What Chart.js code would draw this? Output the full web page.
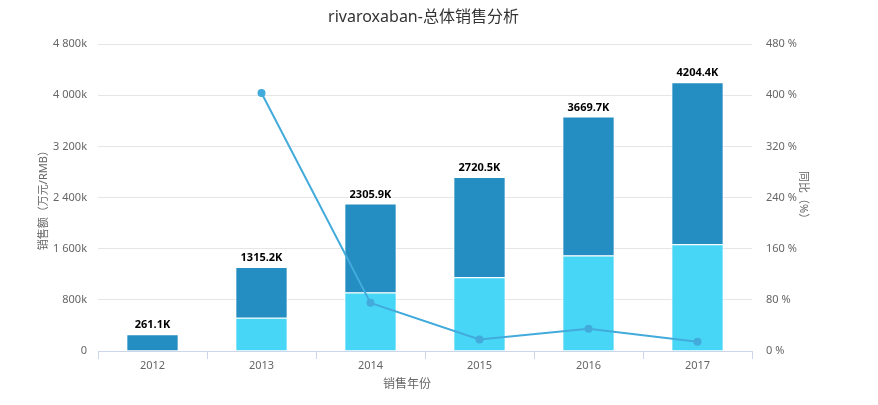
<!DOCTYPE html>
<html>
<head>
<meta charset="utf-8">
<title>rivaroxaban-总体销售分析</title>
<script src="https://cdn.jsdelivr.net/npm/chart.js@4.4.1/dist/chart.umd.min.js"></script>
<style>
    html, body { margin: 0; padding: 0; background: #fff; }
    #wrap { width: 878px; height: 405px; position: relative; }
</style>
</head>
<body>
<div id="wrap"><canvas id="sales-chart"></canvas></div>
<script>
// Data
const years = ['2012', '2013', '2014', '2015', '2016', '2017'];
// lower (light) part of each stack, in thousands
const lowerSales = [0, 520, 917, 1152, 1495, 1672];
// upper (dark) part of each stack, in thousands
const upperSales = [261.1, 795.2, 1388.9, 1568.5, 2174.7, 2532.4];
// year-on-year growth, %
const growthPct = [null, 403.7, 75.3, 18.0, 34.9, 14.6];

const FONT = '"Noto Sans", "Noto Sans CJK SC", sans-serif';

// Draw stack totals above each bar
const totalLabels = {
    id: 'totalLabels',
    afterDatasetsDraw(chart) {
        const ctx = chart.ctx;
        const topMeta = chart.getDatasetMeta(2);
        ctx.save();
        ctx.font = 'bold 11px ' + FONT;
        ctx.textAlign = 'center';
        ctx.textBaseline = 'middle';
        ctx.lineJoin = 'round';
        topMeta.data.forEach((bar, i) => {
            const total = lowerSales[i] + upperSales[i];
            const text = total.toFixed(1) + 'K';
            ctx.lineWidth = 3;
            ctx.strokeStyle = '#fff';
            ctx.strokeText(text, bar.x, bar.y - 9);
            ctx.fillStyle = '#000';
            ctx.fillText(text, bar.x, bar.y - 9);
        });
        ctx.restore();
    }
};

function formatK(v) {
    if (v === 0) return '0';
    const s = String(v);
    return s.replace(/\B(?=(\d{3})+(?!\d))/g, ' ') + 'k';
}

window.addEventListener('DOMContentLoaded', () => {
    const ctx = document.getElementById('sales-chart').getContext('2d');
    new Chart(ctx, {
        data: {
            labels: years,
            datasets: [
                {
                    type: 'line',
                    label: '同比',
                    data: growthPct,
                    yAxisID: 'y1',
                    borderColor: '#42abdb',
                    backgroundColor: '#42abdb',
                    borderWidth: 2,
                    pointRadius: 3,
                    pointHoverRadius: 3,
                    tension: 0,
                    order: 0
                },
                {
                    type: 'bar',
                    label: 'lower',
                    data: lowerSales,
                    yAxisID: 'y',
                    backgroundColor: '#48d6f6',
                    borderColor: '#ffffff',
                    borderWidth: 1,
                    categoryPercentage: 0.8,
                    barPercentage: 0.6,
                    order: 1
                },
                {
                    type: 'bar',
                    label: 'upper',
                    data: upperSales,
                    yAxisID: 'y',
                    backgroundColor: '#248dc1',
                    borderColor: '#ffffff',
                    borderWidth: 1,
                    categoryPercentage: 0.8,
                    barPercentage: 0.6,
                    order: 1
                }
            ]
        },
        options: {
            responsive: true,
            maintainAspectRatio: false,
            animation: false,
            layout: {
                padding: { left: 37, right: 68, top: 0, bottom: 0 }
            },
            plugins: {
                legend: { display: false },
                tooltip: { enabled: false },
                title: {
                    display: true,
                    text: 'rivaroxaban-总体销售分析',
                    color: '#333',
                    font: { family: FONT, size: 16, weight: 'normal' },
                    padding: { top: 8, bottom: 17 }
                }
            },
            scales: {
                x: {
                    stacked: true,
                    offset: true,
                    afterFit: (scale) => { scale.height = 54; },
                    grid: {
                        offset: true,
                        drawOnChartArea: false,
                        color: '#ccd6eb',
                        tickLength: 8
                    },
                    border: { color: '#ccd6eb' },
                    ticks: {
                        color: '#666',
                        padding: 0,
                        font: { family: FONT, size: 11 }
                    },
                    title: {
                        display: true,
                        text: '销售年份\u3000\u3000\u3000',
                        color: '#666',
                        font: { family: FONT, size: 12 },
                        padding: { top: 0, bottom: 13 }
                    }
                },
                y: {
                    stacked: true,
                    position: 'left',
                    min: 0,
                    max: 4800,
                    afterFit: (scale) => { scale.width = 61; },
                    grid: {
                        color: '#e6e6e6',
                        drawTicks: false
                    },
                    border: { display: false },
                    ticks: {
                        stepSize: 800,
                        color: '#666',
                        padding: 11,
                        font: { family: FONT, size: 11 },
                        callback: (v) => formatK(v)
                    },
                    title: {
                        display: true,
                        text: '销售额（万元/RMB）',
                        color: '#666',
                        font: { family: FONT, size: 11 },
                        padding: { top: 0, bottom: 0 }
                    }
                },
                y1: {
                    position: 'right',
                    min: 0,
                    max: 480,
                    afterFit: (scale) => { scale.width = 58; },
                    grid: {
                        drawOnChartArea: false,
                        drawTicks: false
                    },
                    border: { display: false },
                    ticks: {
                        stepSize: 80,
                        color: '#666',
                        padding: 14,
                        font: { family: FONT, size: 11 },
                        callback: (v) => v + ' %'
                    },
                    title: {
                        display: true,
                        text: '同比（%）',
                        color: '#666',
                        font: { family: FONT, size: 11 },
                        padding: { top: 0, bottom: 0 }
                    }
                }
            }
        },
        plugins: [totalLabels]
    });
});
</script>
</body>
</html>
